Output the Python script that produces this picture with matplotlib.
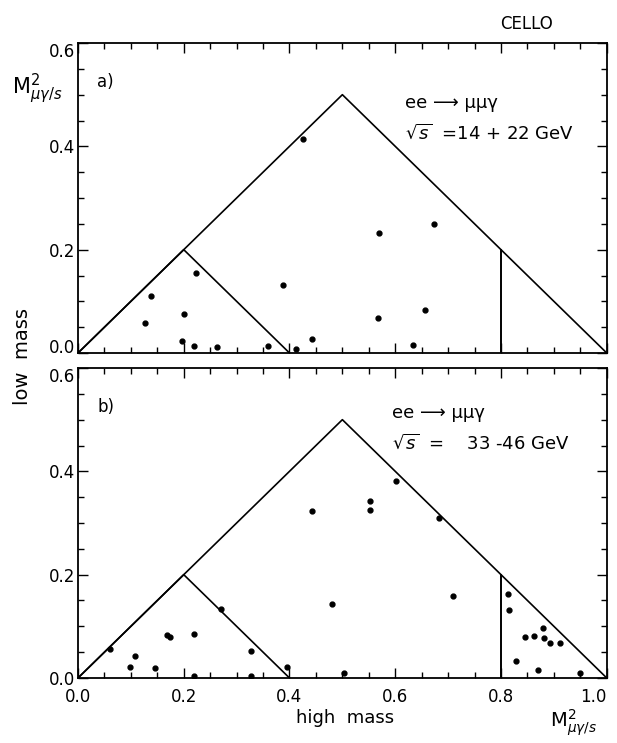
import numpy as np
import matplotlib
matplotlib.use("Agg")
import matplotlib.pyplot as plt
from matplotlib.ticker import MultipleLocator

# kinematic boundaries (same in both panels)
outer_x = [0.0, 0.5, 1.0]
outer_y = [0.0, 0.5, 0.0]
inner_x = [0.0, 0.2, 0.4]
inner_y = [0.0, 0.2, 0.0]
cut_x = [0.8, 0.8]
cut_y = [0.0, 0.2]

# a) sqrt(s) = 14 - 22 GeV
a_high = [0.425, 0.224, 0.139, 0.126, 0.200, 0.197, 0.219, 0.262, 0.360,
          0.387, 0.413, 0.443, 0.569, 0.673, 0.568, 0.657, 0.633]
a_low = [0.415, 0.154, 0.110, 0.058, 0.075, 0.023, 0.013, 0.012, 0.013,
         0.131, 0.008, 0.028, 0.232, 0.250, 0.068, 0.084, 0.015]

# b) sqrt(s) = 33 - 46 GeV
b_high = [0.443, 0.481, 0.060, 0.107, 0.098, 0.146, 0.168, 0.174, 0.220,
          0.270, 0.327, 0.396, 0.220, 0.327, 0.601, 0.552, 0.552, 0.682,
          0.709, 0.504, 0.814, 0.816, 0.846, 0.862, 0.879, 0.881, 0.893,
          0.912, 0.829, 0.870, 0.950]
b_low = [0.323, 0.144, 0.057, 0.042, 0.022, 0.019, 0.084, 0.080, 0.086,
         0.134, 0.052, 0.022, 0.004, 0.004, 0.381, 0.342, 0.325, 0.310,
         0.158, 0.010, 0.162, 0.131, 0.080, 0.082, 0.097, 0.078, 0.067,
         0.067, 0.032, 0.016, 0.010]

xticks = [0.0, 0.2, 0.4, 0.6, 0.8, 1.0]
yticks = [0.0, 0.2, 0.4, 0.6]

fig = plt.figure(figsize=(6.17, 7.43), dpi=100)
ax1 = fig.add_axes([0.1264, 0.5249, 0.857, 0.4172])
ax2 = fig.add_axes([0.1264, 0.0875, 0.857, 0.4172])

def setup(ax, show_x, lift_zero):
    ax.plot(outer_x, outer_y, 'k-', lw=1.2)
    ax.plot(inner_x, inner_y, 'k-', lw=1.2)
    ax.plot(cut_x, cut_y, 'k-', lw=1.4)
    ax.set_xlim(0, 1.0)
    ax.set_ylim(0, 0.6)
    ax.set_xticks(xticks)
    ax.set_yticks(yticks)
    ax.xaxis.set_minor_locator(MultipleLocator(0.05))
    ax.yaxis.set_minor_locator(MultipleLocator(0.05))
    ax.tick_params(which='both', direction='in', top=True, right=True,
                   labelsize=12, width=1.0)
    ax.tick_params(which='major', length=7)
    ax.tick_params(which='minor', length=4)
    ax.tick_params(axis='y', pad=2)
    ax.tick_params(axis='x', pad=7)
    ax.set_yticklabels([f"{v:.1f}" for v in yticks])
    ylabels = ax.get_yticklabels()
    ylabels[-1].set_verticalalignment('top')
    if lift_zero:
        ylabels[0].set_verticalalignment('baseline')
    if show_x:
        ax.set_xticklabels([f"{v:.1f}" for v in xticks])
        ax.get_xticklabels()[-1].set_horizontalalignment('right')
    else:
        ax.set_xticklabels([])
    for s in ax.spines.values():
        s.set_linewidth(1.3)

setup(ax1, False, True)
setup(ax2, True, False)

ax1.plot(a_high, a_low, 'ko', ms=3.5)
ax2.plot(b_high, b_low, 'ko', ms=3.5)

ax1.text(0.036, 0.524, "a)", fontsize=12, va='center')
ax2.text(0.036, 0.524, "b)", fontsize=12, va='center')

ax1.text(0.618, 0.484, "ee ⟶ μμγ", fontsize=13, va='center')
ax1.text(0.618, 0.426, r"$\sqrt{s}$  =14 + 22 GeV", fontsize=13, va='center')
ax2.text(0.594, 0.513, "ee ⟶ μμγ", fontsize=13, va='center')
ax2.text(0.594, 0.455, r"$\sqrt{s}$  =    33 -46 GeV", fontsize=13, va='center')

fig.text(0.854, 0.968, "CELLO", fontsize=12, ha='center', va='center')
fig.text(0.06, 0.88, r"$\mathrm{M}^2_{\mu\gamma/s}$", fontsize=15,
         ha='center', va='center')
fig.text(0.036, 0.52, "low  mass", fontsize=14, rotation=90,
         ha='center', va='center')
fig.text(0.56, 0.034, "high  mass", fontsize=13, ha='center', va='center')
fig.text(0.93, 0.027, r"$\mathrm{M}^2_{\mu\gamma/s}$", fontsize=14,
         ha='center', va='center')

fig.savefig("out.png", dpi=100)
